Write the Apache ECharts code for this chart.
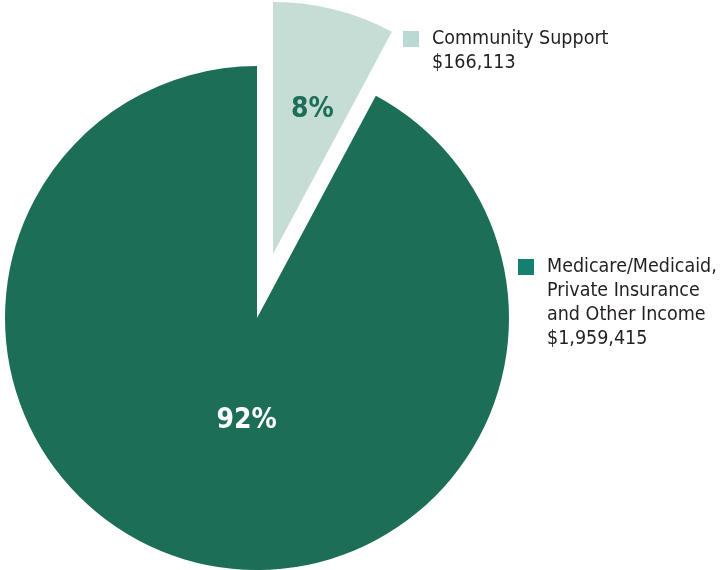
<!DOCTYPE html>
<html>
<head>
<meta charset="utf-8">
<script src="https://cdn.jsdelivr.net/npm/echarts@6/dist/echarts.min.js"></script>
<style>
  html, body { margin: 0; padding: 0; background: #fff; }
  #chart { width: 720px; height: 570px; }
</style>
</head>
<body>
<div id="chart"></div>
<script>
// income sources
const categories = ['Community Support', 'Medicare/Medicaid, Private Insurance and Other Income'];
const amounts = [166113, 1959415];
const legendLines = [
  ['Community Support'],
  ['Medicare/Medicaid,', 'Private Insurance', 'and Other Income']
];
const sliceColors = ['#c5ddd5', '#1d6e56'];
const legendColors = ['#b9d9d3', '#14806f'];
const labelColors = ['#1d6e56', '#ffffff'];

(function () {
  const FONT = "'DejaVu Sans Condensed', 'Liberation Sans Narrow', sans-serif";
  const LH = 24;
  const chart = echarts.init(document.getElementById('chart'));

  const fmtMoney = v => '$' + v.toLocaleString('en-US');

  // blank lines on top keep the first text line level with the square
  function makeLegend(i, left, iconCenterY) {
    const lines = legendLines[i].concat([fmtMoney(amounts[i])]);
    const pad = new Array(lines.length - 1).fill('');
    const boxH = (lines.length * 2 - 1) * LH;
    return {
      left: left,
      top: iconCenterY - boxH / 2,
      padding: 0,
      orient: 'vertical',
      selectedMode: false,
      icon: 'rect',
      itemWidth: 16,
      itemHeight: 16,
      data: [{ name: categories[i], itemStyle: { color: legendColors[i] } }],
      formatter: () => pad.concat(lines).join('\n'),
      textStyle: {
        fontFamily: FONT,
        fontSize: 19.5,
        lineHeight: LH,
        color: '#231f20',
        padding: [0, 0, 0, 8]
      }
    };
  }

  const data = categories.map((name, i) => {
    const lbl = {
      color: labelColors[i],
      offset: i === 0 ? [8, -19] : [21, -22]
    };
    return {
      name: name,
      value: amounts[i],
      selected: i === 0,
      itemStyle: { color: sliceColors[i] },
      select: { itemStyle: { color: sliceColors[i] }, label: lbl },
      label: lbl
    };
  });

  chart.setOption({
    animation: false,
    legend: [makeLegend(0, 403, 39), makeLegend(1, 518, 267)],
    series: [{
      type: 'pie',
      center: [257, 318],
      radius: [0, 252],
      startAngle: 90,
      clockwise: true,
      selectedMode: 'single',
      selectedOffset: 66,
      avoidLabelOverlap: false,
      emphasis: { disabled: true },
      label: {
        show: true,
        position: 'inside',
        fontFamily: FONT,
        fontWeight: 'bold',
        fontSize: 28,
        formatter: p => Math.round(p.percent) + '%'
      },
      labelLine: { show: false },
      data: data
    }]
  });
})();
</script>
</body>
</html>
